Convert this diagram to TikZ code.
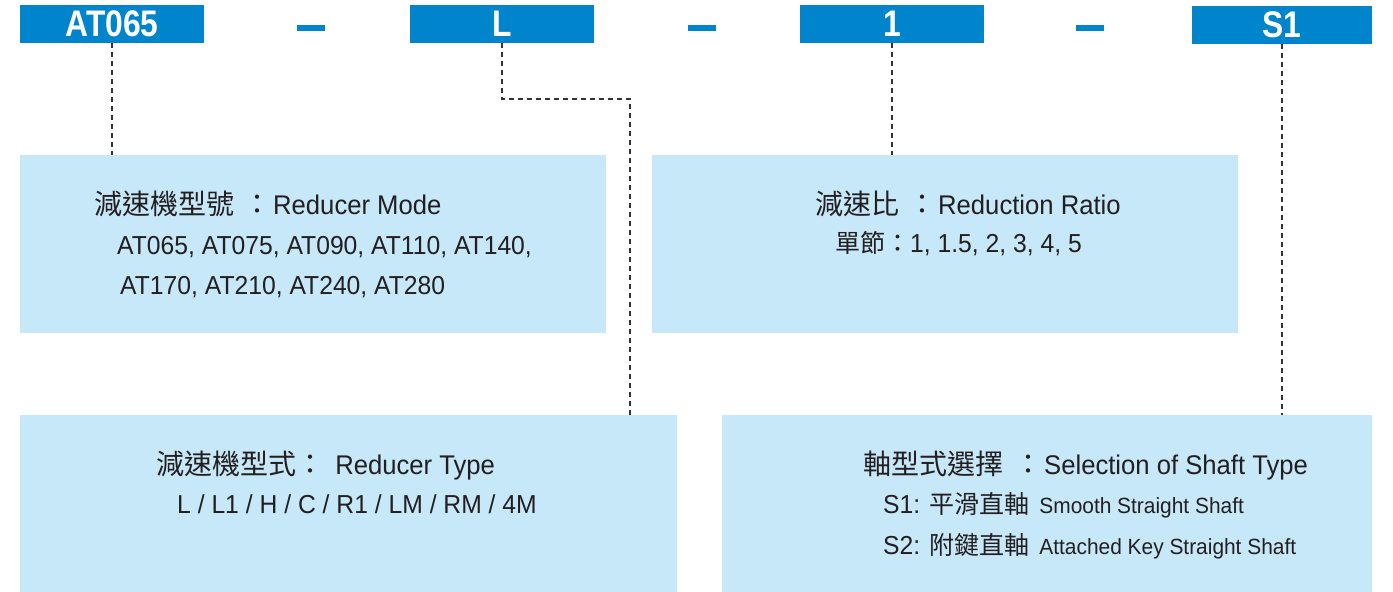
\documentclass[tikz,border=0pt]{standalone}
\usepackage{fontspec}
\setmainfont[FakeStretch=0.95]{Liberation Sans}
\newfontfamily\cjk{Noto Sans CJK TC}
\newfontfamily\hdfont[FakeStretch=0.86]{Liberation Sans}
\usetikzlibrary{calc}
\definecolor{hdblue}{RGB}{0,133,204}
\definecolor{boxblue}{RGB}{199,232,249}
\definecolor{txtgray}{RGB}{35,31,32}
\newcommand{\zh}[1]{{\cjk\fontsize{25}{25}\selectfont #1}}
\newcommand{\zhhd}[1]{{\cjk\fontsize{28}{28}\selectfont #1}}

\begin{document}
\begin{tikzpicture}[x=1pt, y=-1pt,
		hdbox/.style={fill=hdblue, text=white, inner sep=0pt, minimum width=184pt, minimum height=38pt, font=\hdfont\bfseries\fontsize{37}{37}\selectfont},
		sep/.style={fill=hdblue, draw=none},
		infobox/.style={fill=boxblue, anchor=north west, inner sep=0pt},
		hdline/.style={anchor=base west, inner sep=0pt, text=txtgray, font=\fontsize{27}{27}\selectfont},
		bodyline/.style={anchor=base west, inner sep=0pt, text=txtgray, font=\fontsize{26}{26}\selectfont},
		link/.style={draw=black!80, line width=1.1pt, dash pattern=on 5pt off 4pt}]
			\useasboundingbox (0,0) rectangle (1393,592);
			% code blocks
			\node[hdbox] (model) at (112,24) {AT065};
			\node[hdbox] (type) at (502,24) {L};
			\node[hdbox] (ratio) at (892,24) {1};
			\node[hdbox, minimum width=180pt] (shaft) at (1282,25) {S1};
			\fill[sep] (297,25) rectangle (325,31);
			\fill[sep] (688,25) rectangle (716,31);
			\fill[sep] (1076,25) rectangle (1104,31);
			% description boxes
			\node[infobox, minimum width=586pt, minimum height=178pt] (modelbox) at (20,155) {};
			\node[infobox, minimum width=586pt, minimum height=178pt] (ratiobox) at (652,155) {};
			\node[infobox, minimum width=657pt, minimum height=177pt] (typebox) at (20,415) {};
			\node[infobox, minimum width=650pt, minimum height=177pt] (shaftbox) at (722,415) {};
			% connectors
			\coordinate (bend) at (630,99);
			\draw[link] (model.south) -- (model.south |- modelbox.north);
			\draw[link] (type.south) |- (bend) -- (bend |- typebox.north);
			\draw[link] (ratio.south) -- (ratio.south |- ratiobox.north);
			\draw[link] (shaft.south) -- (shaft.south |- shaftbox.north);
			% texts
			\node[hdline] (modelhd) at (94,214) {\zhhd{減速機型號\hspace{9pt}：}\hspace{2pt}Reducer Mode};
			\node[bodyline] (modells1) at (117,254) {AT065, AT075, AT090, AT110, AT140,};
			\node[bodyline] (modells2) at (120,294) {AT170, AT210, AT240, AT280};
			\node[hdline] (ratiohd) at (815,214) {\zhhd{減速比\hspace{9pt}：}\hspace{2pt}Reduction Ratio};
			\node[bodyline] (ratiols) at (835,252) {\zh{單節：}1, 1.5, 2, 3, 4, 5};
			\node[hdline] (typehd) at (156,474) {\zhhd{減速機型式：}\hspace{4pt} Reducer Type};
			\node[bodyline] (typels) at (177,513) {L / L1 / H / C / R1 / LM / RM / 4M};
			\node[hdline] (shafthd) at (863,474) {\zhhd{軸型式選擇\hspace{11pt}：}\hspace{2pt}Selection of Shaft Type};
			\node[bodyline] (shafts1) at (883,513) {S1: \zh{平滑直軸}\hspace{10pt}{\fontsize{22}{22}\selectfont Smooth Straight Shaft}};
			\node[bodyline] (shafts2) at (883,554) {S2: \zh{附鍵直軸}\hspace{10pt}{\fontsize{22}{22}\selectfont Attached Key Straight Shaft}};
		\end{tikzpicture}
\end{document}
